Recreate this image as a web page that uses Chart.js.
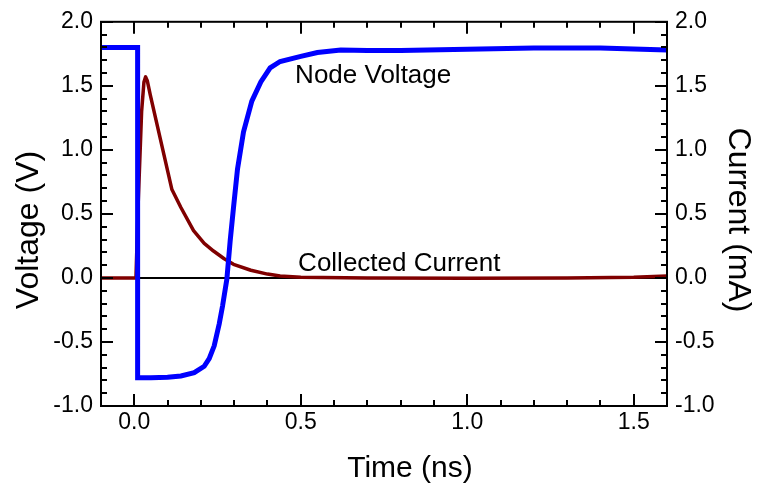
<!DOCTYPE html>
<html>
<head>
<meta charset="utf-8">
<script src="https://cdn.jsdelivr.net/npm/chart.js@4/dist/chart.umd.min.js"></script>
<style>
  html, body { margin: 0; padding: 0; background: #fff; }
  canvas { display: block; }
</style>
</head>
<body>
<canvas id="chart1" width="760" height="488"></canvas>
<script>
// ---- data ----
// node voltage (V) vs time (ns)
const voltTime = [-0.1, 0.01, 0.01, 0.05, 0.1, 0.14, 0.18, 0.21, 0.225, 0.24, 0.255, 0.265, 0.278, 0.288, 0.298, 0.31, 0.328, 0.353, 0.38, 0.408, 0.438, 0.5, 0.55, 0.62, 0.7, 0.8, 1.0, 1.2, 1.4, 1.6];
const voltValues = [1.8, 1.8, -0.78, -0.78, -0.775, -0.765, -0.74, -0.69, -0.63, -0.53, -0.36, -0.22, -0.01, 0.29, 0.55, 0.85, 1.14, 1.38, 1.53, 1.64, 1.69, 1.73, 1.76, 1.78, 1.775, 1.775, 1.785, 1.795, 1.795, 1.78];

// collected current (mA) vs time (ns)
const currTime = [-0.1, 0.005, 0.012, 0.022, 0.029, 0.034, 0.039, 0.048, 0.113, 0.14, 0.178, 0.21, 0.238, 0.27, 0.298, 0.35, 0.4, 0.438, 0.5, 0.7, 1.0, 1.3, 1.5, 1.6];
const currValues = [0, 0, 0.6, 1.3, 1.53, 1.57, 1.54, 1.43, 0.69, 0.55, 0.37, 0.27, 0.21, 0.15, 0.106, 0.06, 0.03, 0.015, 0.005, 0, -0.003, 0, 0.005, 0.015];

// axis ranges
const timeRange = [-0.1, 1.6];
const voltRange = [-1.0, 2.0];
const currRange = [-1.0, 2.0];

const FONT = "'Liberation Sans', Arial, sans-serif";

// points {x,y} pour chart.js
const voltPoints = voltTime.map((t, i) => ({ x: t, y: voltValues[i] }));
const currPoints = currTime.map((t, i) => ({ x: t, y: currValues[i] }));

// cadre + graduations vers l'interieur + textes
const framePlugin = {
  id: 'frame',
  afterDatasetsDraw(chart) {
    const ctx = chart.ctx;
    const a = chart.chartArea;
    const xs = chart.scales.x;
    const ys = chart.scales.y;
    ctx.save();
    ctx.strokeStyle = '#000';
    ctx.lineWidth = 2;
    ctx.beginPath();
    // x ticks haut & bas
    for (let k = -1; k <= 16; k++) {
      const px = Math.round(xs.getPixelForValue(k / 10));
      const len = (k % 5 === 0) ? 12 : 6;
      ctx.moveTo(px, a.bottom); ctx.lineTo(px, a.bottom - len);
      ctx.moveTo(px, a.top); ctx.lineTo(px, a.top + len);
    }
    // y ticks gauche & droite
    for (let k = -10; k <= 20; k++) {
      const py = Math.round(ys.getPixelForValue(k / 10));
      const len = (k % 5 === 0) ? 12 : 6;
      ctx.moveTo(a.left, py); ctx.lineTo(a.left + len, py);
      ctx.moveTo(a.right, py); ctx.lineTo(a.right - len, py);
    }
    ctx.stroke();
    ctx.strokeRect(a.left, a.top, a.right - a.left, a.bottom - a.top);

    // etiquettes des courbes
    ctx.fillStyle = '#000';
    ctx.font = '26px ' + FONT;
    ctx.textAlign = 'left';
    ctx.textBaseline = 'middle';
    ctx.fillText('Node Voltage', xs.getPixelForValue(0.483), ys.getPixelForValue(1.58));
    ctx.fillText('Collected Current', xs.getPixelForValue(0.492), ys.getPixelForValue(0.11));

    // titres des axes
    ctx.textAlign = 'center';
    ctx.textBaseline = 'alphabetic';
    ctx.font = '30px ' + FONT;
    ctx.fillText('Time (ns)', 410, 477);

    ctx.font = '32px ' + FONT;
    ctx.save();
    ctx.translate(38, 230);
    ctx.rotate(-Math.PI / 2);
    ctx.fillText('Voltage (V)', 0, 0);
    ctx.restore();

    ctx.save();
    ctx.translate(729, 220);
    ctx.rotate(Math.PI / 2);
    ctx.fillText('Current (mA)', 0, 0);
    ctx.restore();

    ctx.restore();
  }
};

const ctx = document.getElementById('chart1').getContext('2d');
const myChart = new Chart(ctx, {
  type: 'line',
  data: {
    datasets: [
      {
        label: 'Node Voltage',
        data: voltPoints,
        borderColor: '#0000ff',
        borderWidth: 5,
        pointRadius: 0,
        tension: 0,
        yAxisID: 'y'
      },
      {
        label: 'Collected Current',
        data: currPoints,
        borderColor: '#800000',
        borderWidth: 3.5,
        borderJoinStyle: 'round',
        pointRadius: 0,
        tension: 0,
        yAxisID: 'y2'
      }
    ]
  },
  options: {
    responsive: false,
    animation: false,
    devicePixelRatio: 1,
    layout: { padding: { top: 20, left: 0, right: 0, bottom: 0 } },
    plugins: {
      legend: { display: false },
      tooltip: { enabled: false }
    },
    scales: {
      x: {
        type: 'linear',
        position: 'bottom',
        min: timeRange[0],
        max: timeRange[1],
        afterFit: (s) => { s.height = 82; },
        afterBuildTicks: (s) => { s.ticks = [0, 0.5, 1.0, 1.5].map(v => ({ value: v })); },
        ticks: {
          color: '#000',
          font: { family: FONT, size: 23 },
          padding: 3,
          maxRotation: 0,
          callback: (v) => v.toFixed(1)
        },
        grid: { display: false, drawTicks: false },
        border: { display: false }
      },
      y: {
        position: 'left',
        min: voltRange[0],
        max: voltRange[1],
        afterFit: (s) => { s.width = 101; },
        ticks: {
          stepSize: 0.5,
          color: '#000',
          font: { family: FONT, size: 23 },
          padding: 8,
          callback: (v) => v.toFixed(1)
        },
        grid: {
          drawTicks: false,
          color: (c) => (c.tick && c.tick.value === 0) ? '#000' : 'rgba(0,0,0,0)',
          lineWidth: 2
        },
        border: { display: false }
      },
      y2: {
        position: 'right',
        min: currRange[0],
        max: currRange[1],
        afterFit: (s) => { s.width = 93; },
        ticks: {
          stepSize: 0.5,
          color: '#000',
          font: { family: FONT, size: 23 },
          padding: 8,
          callback: (v) => v.toFixed(1)
        },
        grid: { display: false, drawTicks: false },
        border: { display: false }
      }
    }
  },
  plugins: [framePlugin]
});
</script>
</body>
</html>
